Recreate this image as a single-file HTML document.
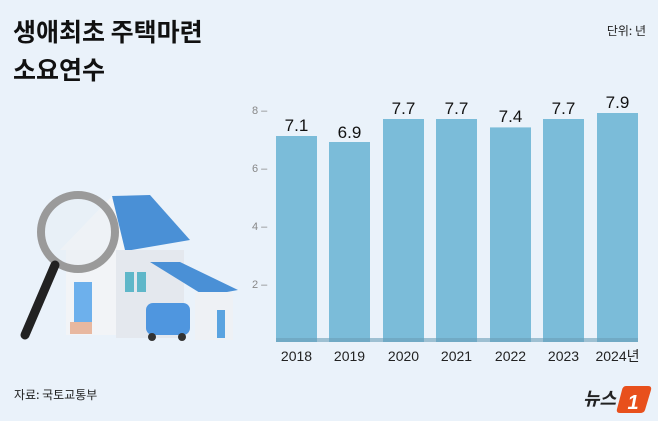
<!DOCTYPE html>
<html><head><meta charset="utf-8"><style>
html,body{margin:0;padding:0;background:#eaf2fa;}
svg{display:block;font-family:"Liberation Sans","Noto Sans CJK KR",sans-serif;}
</style></head><body>
<svg width="658" height="421" viewBox="0 0 658 421" xmlns="http://www.w3.org/2000/svg">
<rect width="658" height="421" fill="#eaf2fa"/>
<text x="13" y="41" font-size="25" font-weight="bold" fill="#111" font-family="'Noto Sans CJK KR',sans-serif">생애최초 주택마련</text>
<text x="13" y="79" font-size="25" font-weight="bold" fill="#111" font-family="'Noto Sans CJK KR',sans-serif">소요연수</text>
<text x="646" y="35" font-size="12" fill="#222" text-anchor="end" font-family="'Noto Sans CJK KR',sans-serif">단위: 년</text>
<text x="14" y="399" font-size="12" fill="#222" font-family="'Noto Sans CJK KR',sans-serif">자료: 국토교통부</text>
<!-- y ticks -->
<g font-size="11" fill="#888">
<text x="252" y="114">8 –</text>
<text x="252" y="172">6 –</text>
<text x="252" y="230">4 –</text>
<text x="252" y="288">2 –</text>
</g>
<!-- bars: baseline 342, 29px/unit -->
<g fill="#7bbcd9">
<rect x="276" y="136" width="41" height="206"/>
<rect x="329" y="142" width="41" height="200"/>
<rect x="383" y="119" width="41" height="223"/>
<rect x="436" y="119" width="41" height="223"/>
<rect x="490" y="127.4" width="41" height="214.6"/>
<rect x="543" y="119" width="41" height="223"/>
<rect x="597" y="113" width="41" height="229"/>
</g>
<rect x="276" y="338" width="362" height="4" fill="#6a9fb8" opacity="0.6"/>
<g font-size="17" fill="#111" text-anchor="middle" font-weight="500">
<text x="296.5" y="131">7.1</text>
<text x="349.5" y="138">6.9</text>
<text x="403.5" y="114">7.7</text>
<text x="456.5" y="114">7.7</text>
<text x="510.5" y="122">7.4</text>
<text x="563.5" y="114">7.7</text>
<text x="617.5" y="108">7.9</text>
</g>
<g font-size="14" fill="#222" text-anchor="middle">
<text x="296.5" y="361">2018</text>
<text x="349.5" y="361">2019</text>
<text x="403.5" y="361">2020</text>
<text x="456.5" y="361">2021</text>
<text x="510.5" y="361">2022</text>
<text x="563.5" y="361">2023</text>
<text x="617.5" y="361">2024<tspan font-family="'Noto Sans CJK KR',sans-serif">년</tspan></text>
</g>
<!-- house illustration -->
<g>
<polygon points="112,196 150,195 190,240 120,252" fill="#4a90d6"/>
<polygon points="60,250 112,196 125,250" fill="#f4f6f8"/>
<rect x="66" y="250" width="50" height="85" fill="#f2f4f7"/>
<rect x="116" y="250" width="68" height="88" fill="#e4e8ee"/>
<polygon points="150,262 180,262 238,290 205,296" fill="#4a90d6"/>
<rect x="195" y="292" width="38" height="48" fill="#eef1f5"/>
<rect x="217" y="310" width="8" height="28" fill="#5aa3e0"/>
<rect x="74" y="282" width="18" height="42" fill="#6db0ec"/>
<rect x="70" y="322" width="22" height="12" fill="#e8b8a0"/>
<rect x="125" y="272" width="9" height="20" fill="#5fb7c9"/>
<rect x="137" y="272" width="9" height="20" fill="#5fb7c9"/>
<rect x="146" y="303" width="44" height="32" rx="7" fill="#4f96df"/>
<circle cx="152" cy="337" r="4" fill="#333"/><circle cx="182" cy="337" r="4" fill="#333"/>
<circle cx="78" cy="232" r="37" fill="#e6edf3" fill-opacity="0.4" stroke="#9a9a9a" stroke-width="8"/>
<line x1="55" y1="265" x2="25" y2="335" stroke="#222" stroke-width="9" stroke-linecap="round"/>
</g>
<!-- logo -->
<text x="583" y="405" font-size="18" font-weight="bold" fill="#222" font-style="italic" font-family="'Noto Sans CJK KR',sans-serif">뉴스</text>
<path d="M626 386 L648 386 Q652 386 651 390 L645 410 Q644 413 640 413 L620 413 Q616 413 617 409 L622 390 Q623 386 626 386Z" fill="#e8501c"/>
<text x="633" y="409" font-size="20" font-weight="bold" fill="#fff" font-style="italic" text-anchor="middle">1</text>
</svg>
</body></html>
